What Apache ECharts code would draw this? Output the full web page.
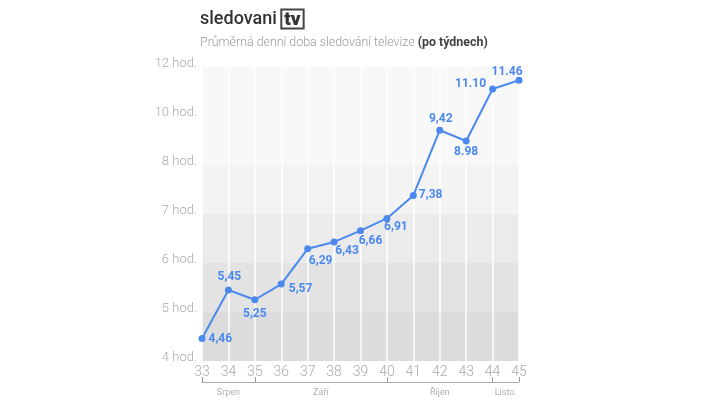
<!DOCTYPE html>
<html><head><meta charset="utf-8">
<script src="https://cdn.jsdelivr.net/npm/echarts@6/dist/echarts.min.js"></script>
<style>html,body{margin:0;padding:0;background:#fff}#c{width:720px;height:405px}</style>
</head><body><div id="c"></div>
<script>
const weeks = ['33','34','35','36','37','38','39','40','41','42','43','44','45'];
const hours = [4.46,5.45,5.25,5.57,6.29,6.43,6.66,6.91,7.38,9.42,8.98,11.10,11.46];
const valueLabels = ['4,46','5,45','5,25','5,57','6,29','6,43','6,66','6,91','7,38','9,42','8.98','11.10','11.46'];
const yTickValues = [4,5,6,7,8,10,12];
const yTickLabels = ['4 hod.','5 hod.','6 hod.','7 hod.','8 hod.','10 hod.','12 hod.'];
const months = ['Srpen','Září','Říjen','Listo.'];
const monthBounds = [33,35,40,44,45];

// piecewise axis: each tick step gets equal height
function toPos(v){
  for(let i=0;i<yTickValues.length-1;i++){
    const a=yTickValues[i], b=yTickValues[i+1];
    if(v<=b || i===yTickValues.length-2) return i+(v-a)/(b-a);
  }
}
const labelPlacement = [
  {position:'right',offset:[-2,1]},
  {position:'top',offset:[1,2]},
  {position:'bottom',offset:[0,0]},
  {position:'right',offset:[-1,5]},
  {position:'bottom',offset:[13,-2]},
  {position:'bottom',offset:[13,-5]},
  {position:'bottom',offset:[10,-4]},
  {position:'bottom',offset:[9,-6]},
  {position:'right',offset:[-3,0]},
  {position:'top',offset:[1,3]},
  {position:'bottom',offset:[0,-3]},
  {position:'left',offset:[2,-5]},
  {position:'top',offset:[-12,6]}
];
const monthCenters = months.map((m,i)=>(monthBounds[i]+monthBounds[i+1])/2);
const blue = '#4b89ef';
const chart = echarts.init(document.getElementById('c'));
chart.setOption({
  animation:false,
  textStyle:{fontFamily:'Roboto'},
  title:[{
    left:200, top:10, padding:0,
    text:'sledovani {box|tv}',
    textStyle:{fontFamily:'Roboto',fontSize:18,fontWeight:500,color:'#333',
      rich:{box:{fontFamily:'Roboto',fontSize:19,fontWeight:900,color:'#333',borderColor:'#444',borderWidth:2,padding:[1,3,-1,3],lineHeight:18}}}
  },{
    left:200, top:37, padding:0,
    text:'Průměrná denní doba sledování televize {b|(po týdnech)}',
    textStyle:{fontFamily:'Roboto',fontSize:12.4,fontWeight:300,color:'#9a9a9a',
      rich:{b:{fontFamily:'Roboto',fontSize:12.4,fontWeight:'bold',color:'#444'}}}
  }],
  grid:{left:202,right:201,top:67,bottom:44},
  xAxis:[{
    type:'category', data:weeks, boundaryGap:false,
    axisLine:{show:false}, axisTick:{show:false},
    axisLabel:{color:'#aaa',fontSize:14,fontWeight:300,margin:4},
    splitLine:{show:true,lineStyle:{color:'#ffffff',width:1.5}}
  },{
    type:'value', min:33, max:45, position:'bottom', offset:21,
    axisLine:{show:true,lineStyle:{color:'#aaa',width:1}},
    axisTick:{show:true,customValues:monthBounds,inside:true,length:5,lineStyle:{color:'#999'}},
    axisLabel:{customValues:monthCenters,color:'#b0b0b0',fontSize:9,margin:6,
      formatter:(v)=>{const i=monthCenters.indexOf(v);return i>=0?months[i]:'';}},
    splitLine:{show:false}
  }],
  yAxis:{
    type:'value', min:0, max:yTickValues.length-1, interval:1,
    axisLine:{show:false}, axisTick:{show:false},
    axisLabel:{color:'#aaa',fontSize:13,fontWeight:300,margin:5,verticalAlign:'bottom',lineHeight:7,
      formatter:(v)=>yTickLabels[v]},
    splitLine:{show:false},
    splitArea:{show:true,areaStyle:{color:['#dcdcdc','#e3e3e3','#ebebeb','#f3f3f3','#f8f8f8','#f8f8f8']}}
  },
  series:[{
    type:'line', xAxisIndex:0,
    data:hours.map((h,i)=>({value:[i,toPos(h)],label:Object.assign({},labelPlacement[i])})),
    symbol:'circle', symbolSize:7,
    lineStyle:{color:blue,width:2},
    itemStyle:{color:blue},
    label:{show:true,color:blue,fontSize:12,fontWeight:'bold',distance:5,
      formatter:(p)=>valueLabels[p.dataIndex]}
  }]
});
</script></body></html>
